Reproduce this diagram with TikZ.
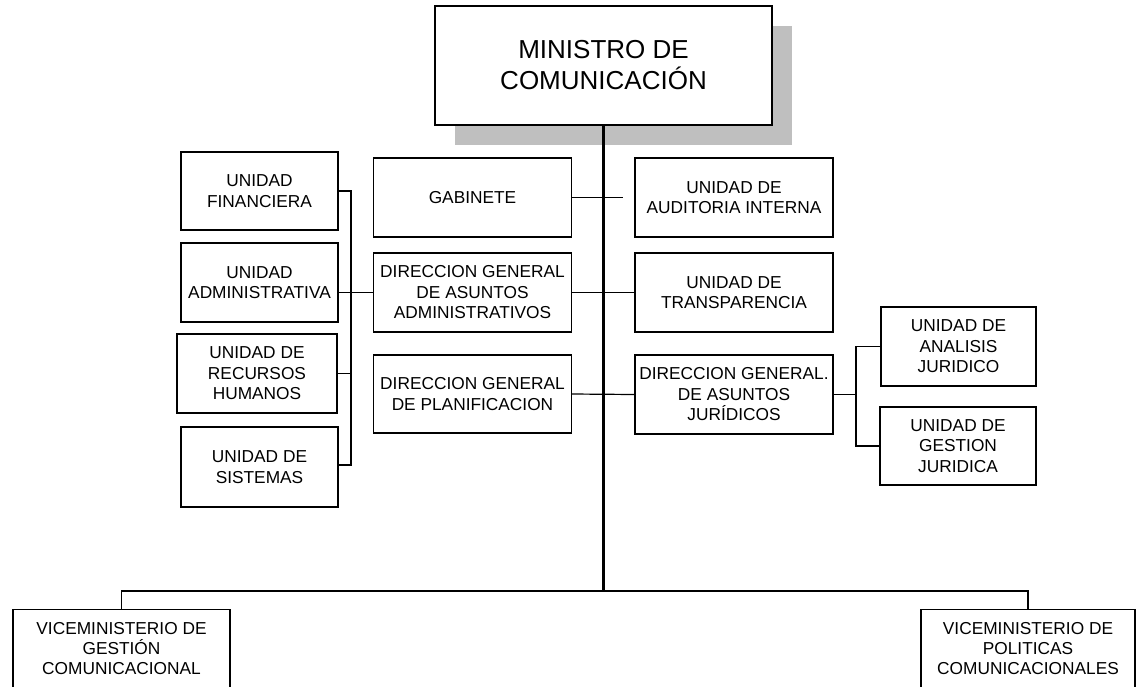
\documentclass[tikz,border=0pt]{standalone}
\usepackage{fontspec}
\setmainfont{Liberation Sans}
\begin{document}
\begin{tikzpicture}[x=1pt,y=-1pt,
  box/.style={draw,line width=1.3pt,align=center,inner sep=0pt,font=\fontsize{17.3}{20.5}\selectfont},
  conn/.style={line width=1.2pt},
  trunk/.style={line width=2.1pt}]
\useasboundingbox (0,0) rectangle (1139,686);
\clip (0,0) rectangle (1139,686);
\fill[white] (0,0) rectangle (1139,686);
% shadow of top box
\fill[black!25] (455,26) rectangle (792,145);
\node[box,fill=white,minimum width=337pt,minimum height=119pt,font=\fontsize{26}{31}\selectfont] (min) at (603.5,65.5) {MINISTRO DE\\COMUNICACIÓN};
% central column
\node[box,minimum width=198pt,minimum height=79pt] (gab) at (472.5,197.5) {GABINETE};
\node[box,minimum width=198pt,minimum height=79pt] (dgaa) at (472.5,292.5) {DIRECCION GENERAL\\DE ASUNTOS\\ADMINISTRATIVOS};
\node[box,minimum width=198pt,minimum height=78pt] (dgp) at (472.5,394) {DIRECCION GENERAL\\DE PLANIFICACION};
\node[box,minimum width=198pt,minimum height=79pt] (aud) at (734,197.5) {UNIDAD DE\\AUDITORIA INTERNA};
\node[box,minimum width=198pt,minimum height=79pt] (tra) at (734,292.5) {UNIDAD DE\\TRANSPARENCIA};
\node[box,minimum width=198pt,minimum height=79pt] (dgaj) at (734,394.5) {DIRECCION GENERAL.\\DE ASUNTOS\\JURÍDICOS};
% left units
\node[box,minimum width=157pt,minimum height=78pt] (fin) at (259.5,191) {UNIDAD\\FINANCIERA};
\node[box,minimum width=157pt,minimum height=79pt] (adm) at (259.5,282.5) {UNIDAD\\ADMINISTRATIVA};
\node[box,minimum width=160pt,minimum height=79pt] (rrhh) at (257,373.5) {UNIDAD DE\\RECURSOS\\HUMANOS};
\node[box,minimum width=157pt,minimum height=80pt] (sis) at (259.5,467) {UNIDAD DE\\SISTEMAS};
% right units
\node[box,minimum width=155pt,minimum height=79pt] (ana) at (958.5,346.5) {UNIDAD DE\\ANALISIS\\JURIDICO};
\node[box,minimum width=156pt,minimum height=78pt] (ges) at (958,446) {UNIDAD DE\\GESTION\\JURIDICA};
% vice-ministries (cut off at the bottom)
\node[box,anchor=north,minimum width=217pt,text height=53.5pt,text depth=40pt,inner ysep=11pt,font=\fontsize{17.3}{20}\selectfont] (vg) at (121.5,609) {VICEMINISTERIO DE\\GESTIÓN\\COMUNICACIONAL};
\node[box,anchor=north,minimum width=214pt,text height=53.5pt,text depth=40pt,inner ysep=11pt,font=\fontsize{17.3}{20}\selectfont] (vp) at (1028,609) {VICEMINISTERIO DE\\POLITICAS\\COMUNICACIONALES};
% coordinates
\coordinate (tb) at (603.5,591);
\coordinate (gabend) at (623,197.5);
\coordinate (lbt) at (351,191);
\coordinate (lbb) at (351,465);
\coordinate (rbt) at (856,346.5);
\coordinate (rbb) at (856,446);
% trunk and bottom bar
\draw[trunk] (min.south) -- (tb);
\draw[conn,line width=1.5pt] (vg.north) -- (vg.north |- tb) -- (vp.north |- tb) -- (vp.north);
% central connectors
\draw[conn] (gab.east) -- (gabend);
\draw[conn] (dgaa.east) -- (tra.west);
\draw[conn] (dgp.east) -- (dgaj.west);
% left bracket
\draw[conn] (fin.east) -- (lbt) -- (lbb) -- (sis.east |- lbb);
\draw[conn] (adm.east |- dgaa.west) -- (dgaa.west);
\draw[conn] (rrhh.east) -- (lbt |- rrhh.east);
% right bracket
\draw[conn] (ana.west) -- (rbt) -- (rbb) -- (ges.west);
\draw[conn] (dgaj.east) -- (rbt |- dgaj.east);
\end{tikzpicture}
\end{document}
